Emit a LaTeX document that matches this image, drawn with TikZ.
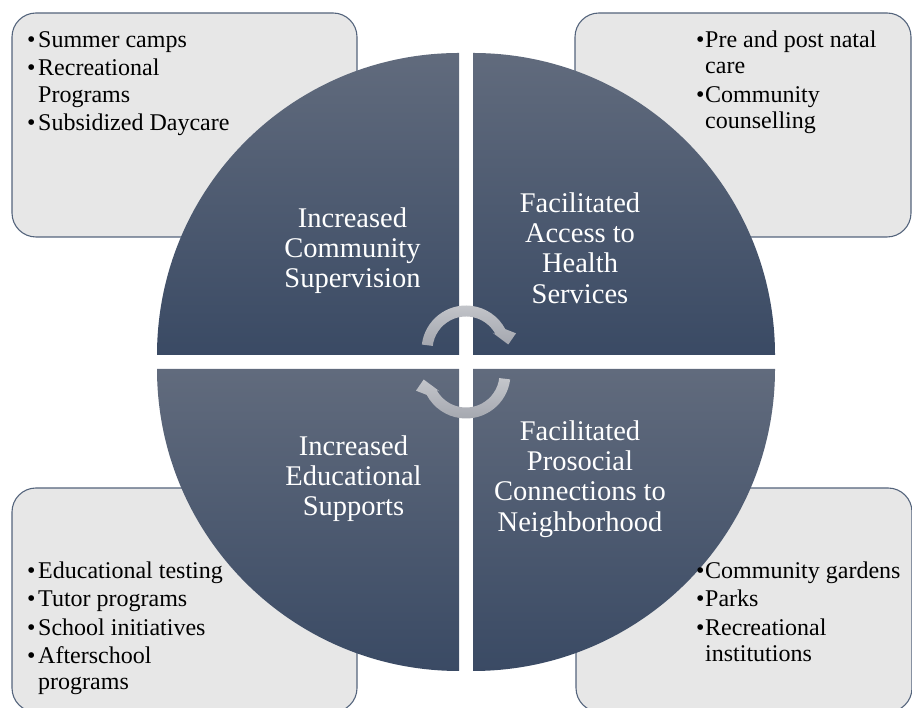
\documentclass[tikz,border=0pt]{standalone}
\usepackage{fontspec}
\setmainfont{Liberation Serif}
\definecolor{quadTop}{RGB}{97,107,125}
\definecolor{quadBot}{RGB}{58,74,100}
\definecolor{boxFill}{RGB}{231,231,231}
\definecolor{boxLine}{RGB}{84,100,124}
\definecolor{arrowTop}{RGB}{196,198,203}
\definecolor{arrowBot}{RGB}{163,166,174}
\newcommand{\bulL}{\makebox[11pt][l]{\textbullet}}
\newcommand{\bulR}{\makebox[9pt][l]{\textbullet}}
\newcommand{\indL}{\hspace*{11pt}}
\newcommand{\indR}{\hspace*{9pt}}
\begin{document}
\begin{tikzpicture}[x=1pt,y=1pt,
  quadrant/.style={top color=quadTop, bottom color=quadBot, draw=none},
  cyclearrow/.style={top color=arrowTop, bottom color=arrowBot, draw=none},
  infobox/.style={draw=boxLine, line width=1.1pt, fill=boxFill,
    rounded corners=24pt, inner sep=0pt, outer sep=0pt, anchor=north west},
  boxtext/.style={align=left, inner sep=0pt, anchor=north west, text=black,
    font=\fontsize{24}{26.3}\selectfont},
  qlabel/.style={align=center, inner sep=0pt, anchor=north, text=white,
    font=\fontsize{28.5}{30.4}\selectfont}]
\useasboundingbox (0,0) rectangle (912,708);

% corner boxes
\node[infobox, minimum width=345pt, minimum height=224pt] (boxTL) at (12,695) {};
\node[infobox, minimum width=336pt, minimum height=224pt] (boxTR) at (575,695) {};
\node[infobox, minimum width=345pt, minimum height=224pt] (boxBL) at (12,220) {};
\node[infobox, minimum width=336pt, minimum height=224pt] (boxBR) at (576,220) {};

% the four quarters of the disc
\shade[quadrant] (459,353) -- (157,353) arc[start angle=180, end angle=90, radius=302] -- cycle;
\shade[quadrant] (473,353) -- (473,655) arc[start angle=90, end angle=0, radius=302] -- cycle;
\shade[quadrant] (459,339) -- (459,37) arc[start angle=270, end angle=180, radius=302] -- cycle;
\shade[quadrant] (473,339) -- (775,339) arc[start angle=0, end angle=-90, radius=302] -- cycle;

% circular arrows in the middle
\begin{scope}[shift={(466,358)}]
  \shade[cyclearrow] (173:44.5) arc[start angle=173, end angle=28, radius=44.5]
    -- (50,16.7) -- (42.3,5.5) -- (26.5,17.3) -- (28:33.5)
    arc[start angle=28, end angle=173, radius=33.5] -- cycle;
\end{scope}
\begin{scope}[shift={(466,334)}]
  \shade[cyclearrow] (353:44.5) arc[start angle=353, end angle=208, radius=44.5]
    -- (-50,-16.7) -- (-42.3,-5.5) -- (-26.5,-17.3) -- (208:33.5)
    arc[start angle=208, end angle=353, radius=33.5] -- cycle;
\end{scope}

% quarter labels
\node[qlabel] (labTL) at (352.5,505) {\rule{0pt}{24pt}Increased\\Community\\Supervision};
\node[qlabel] (labTR) at (580,520) {\rule{0pt}{24pt}Facilitated\\Access to\\Health\\Services};
\node[qlabel] (labBL) at (353.5,277) {\rule{0pt}{24pt}Increased\\Educational\\Supports};
\node[qlabel] (labBR) at (580,292) {\rule{0pt}{24pt}Facilitated\\Prosocial\\Connections to\\Neighborhood};

% bullet lists
\node[boxtext] (txtTL) at (27,680.7) {\rule{0pt}{20pt}\bulL Summer camps\\[2pt]
  \bulL Recreational\\ \indL Programs\\[2pt] \bulL Subsidized Daycare};
\node[boxtext] (txtTR) at (696,680.7) {\rule{0pt}{20pt}\bulR Pre and post natal\\
  \indR care\\[2pt] \bulR Community\\ \indR counselling};
\node[boxtext] (txtBL) at (27,149.7) {\rule{0pt}{20pt}\bulL Educational testing\\[2pt]
  \bulL Tutor programs\\[2pt] \bulL School initiatives\\[2pt] \bulL Afterschool\\ \indL programs};
\node[boxtext] (txtBR) at (696,149.7) {\rule{0pt}{20pt}\bulR Community gardens\\[2pt]
  \bulR Parks\\[2pt] \bulR Recreational\\ \indR institutions};
\end{tikzpicture}
\end{document}
